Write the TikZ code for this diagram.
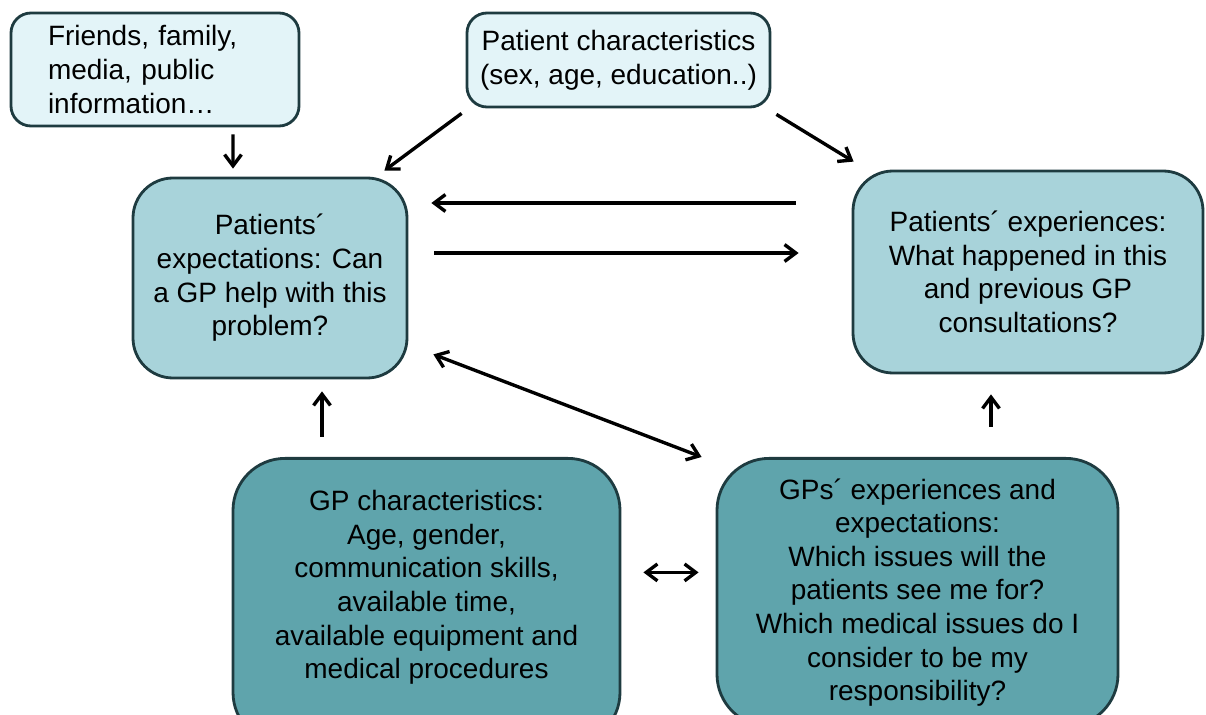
\documentclass[tikz,border=0pt]{standalone}
\usepackage{fontspec}
\setmainfont{Liberation Sans}
\usetikzlibrary{arrows.meta}
\definecolor{boxlight}{HTML}{E3F4F8}
\definecolor{boxmid}{HTML}{A8D3DA}
\definecolor{boxdark}{HTML}{5FA4AC}
\definecolor{boxedge}{HTML}{1E3B40}
\begin{document}
\begin{tikzpicture}[
    box/.style={draw=boxedge, line width=2pt, align=center, inner sep=2pt, font=\fontsize{19.9}{23.9}\selectfont},
    srcbox/.style={box, fill=boxlight, rounded corners=0.5cm},
    patbox/.style={box, fill=boxmid, rounded corners=1cm},
    gpbox/.style={box, fill=boxdark, rounded corners=1.3cm},
    arr/.style={-{Straight Barb[length=8pt,width=12pt]}, line width=2.4pt},
    dblarr/.style={{Straight Barb[length=8pt,width=12pt]}-{Straight Barb[length=8pt,width=12pt]}, line width=2.4pt}
]
    \clip (0,0) rectangle (30.15,-17.875);

    % Oben: Quellen
    \node[srcbox, align=left, text width=5.35cm, inner xsep=0.925cm, minimum height=2.825cm] (friends) at (3.875,-1.7375) {Friends, family,\\ media, public\\ information…};
    \node[srcbox, minimum width=7.575cm, minimum height=2.35cm] (patchar) at (15.4625,-1.5) {Patient characteristics\\ (sex, age, education..)};

    % Mitte: Patienten
    \node[patbox, minimum width=6.85cm, minimum height=5cm] (expect) at (6.75,-6.95) {Patients´\\ expectations: Can\\ a GP help with this\\ problem?};
    \node[patbox, minimum width=8.75cm, minimum height=5.05cm] (exper) at (25.7,-6.8) {Patients´ experiences:\\ What happened in this\\ and previous GP\\ consultations?};

    % Unten: GP
    \node[gpbox, anchor=north, minimum width=9.675cm, minimum height=7.15cm] (gpchar) at (10.6625,-11.425) {GP characteristics:\\ Age, gender,\\ communication skills,\\ available time,\\ available equipment and\\ medical procedures\\ \mbox{}};
    \node[gpbox, anchor=north, minimum width=10.025cm, minimum height=6.7cm] (gpexp) at (22.9375,-11.425) {GPs´ experiences and\\ expectations:\\ Which issues will the\\ patients see me for?\\ Which medical issues do I\\ consider to be my\\ responsibility?};

    % Pfeile
    \draw[arr, shorten <=0.175cm, shorten >=0.2cm] ([xshift=1.95cm]friends.south) -- ([xshift=-0.925cm]expect.north);
    \draw[arr] ([shift={(-0.1cm,-0.125cm)}]patchar.south west) -- ([shift={(-0.6cm,0.15cm)}]expect.north east);
    \draw[arr] ([shift={(0.125cm,-0.15cm)}]patchar.south east) -- ([shift={(0.05cm,0.2cm)}]exper.north west);
    \draw[arr, shorten <=1.4cm, shorten >=0.575cm] ([yshift=1.725cm]exper.west) -- ([yshift=1.725cm]exper.west -| expect.east);
    \draw[arr, shorten <=0.65cm, shorten >=1.325cm] ([yshift=0.625cm]expect.east) -- ([yshift=0.625cm]expect.east -| exper.west);
    \draw[dblarr] ([shift={(0.625cm,0.625cm)}]expect.south east) -- ([xshift=-0.35cm]gpexp.north west);
    \draw[arr, shorten <=0.5cm, shorten >=0.3cm] ([xshift=-2.6125cm]gpchar.north) -- ([xshift=-2.6125cm]gpchar.north |- expect.south);
    \draw[arr, shorten <=0.75cm, shorten >=0.5cm] ([xshift=1.8375cm]gpexp.north) -- ([xshift=1.8375cm]gpexp.north |- exper.south);
    \draw[dblarr, shorten <=0.55cm, shorten >=0.425cm] ([yshift=0.725cm]gpchar.east) -- ([yshift=0.725cm]gpchar.east -| gpexp.west);
\end{tikzpicture}
\end{document}
